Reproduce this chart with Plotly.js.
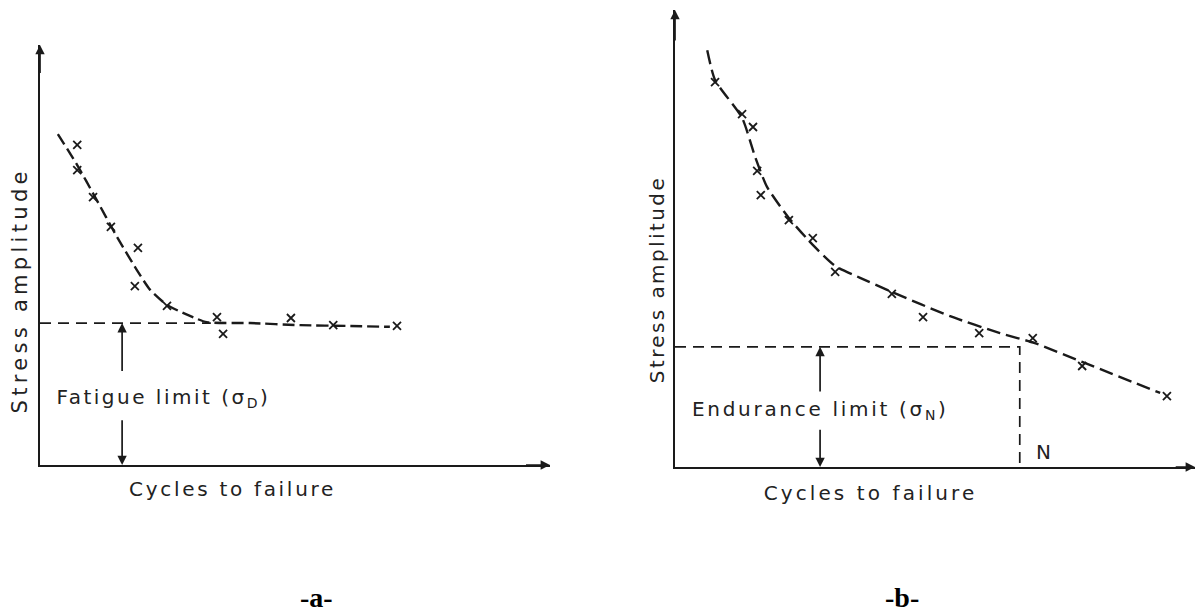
<!DOCTYPE html>
<html><head><meta charset="utf-8">
<script src="https://cdn.plot.ly/plotly-3.0.1.min.js"></script>
<style>
html,body{margin:0;padding:0;background:#fff}
.annotation[data-index="8"] text{letter-spacing:2.5px}
.annotation[data-index="9"] text{letter-spacing:2.7px}
.annotation[data-index="11"] text{letter-spacing:4.3px}
.annotation[data-index="12"] text{letter-spacing:2.4px}
.annotation[data-index="13"] text{letter-spacing:2.7px}
.annotation[data-index="14"] text{letter-spacing:3.1px}
</style>
</head><body>
<div id="chart" style="width:1199px;height:614px"></div>
<script>
// ---- Panel (a): fatigue limit ----
const aCurveX = [0.35,0.73,1.08,1.51,1.90,2.16,2.49,2.94,3.27,4.12,5.10,6.08,6.86];
const aCurveY = [7.88,7.14,6.38,5.43,4.64,4.17,3.81,3.55,3.40,3.38,3.33,3.31,3.29];
const aPointsX = [0.73,0.73,1.04,1.39,1.92,1.86,2.49,3.47,3.59,4.92,5.75,7.00];
const aPointsY = [7.62,7.02,6.38,5.67,5.17,4.26,3.79,3.52,3.12,3.50,3.33,3.31];
const fatigueLimit = 3.38;
const fatigueLimitEndX = 3.35;
const fatigueArrowX = 1.61;

// ---- Panel (b): endurance limit ----
const bCurveX = [0.62,0.77,1.29,1.54,1.77,2.19,2.65,3.08,3.56,4.17,5.29,6.25,6.92,7.83,9.33];
const bCurveY = [9.12,8.47,7.64,6.79,6.13,5.45,4.86,4.40,4.14,3.83,3.30,2.93,2.71,2.30,1.62];
const bPointsX = [0.77,1.29,1.50,1.58,1.65,2.19,2.65,3.08,4.17,4.77,5.85,6.88,7.83,9.46];
const bPointsY = [8.42,7.72,7.44,6.48,5.95,5.40,5.01,4.27,3.79,3.28,2.93,2.82,2.21,1.55];
const enduranceLimit = 2.63;
const cyclesN = 6.63;
const enduranceArrowX = 2.79;

// ---- Text ----
const yTitle = "Stress amplitude";
const xTitle = "Cycles to failure";
const aLimitLabel = "Fatigue limit (σ<sub>D</sub>)";
const bLimitLabel = "Endurance limit (σ<sub>N</sub>)";
const nLabel = "N";
const panelLabels = ["-a-", "-b-"];

const ink = '#1a1a1a';
const lblFont = {family: 'DejaVu Sans', size: 20, color: '#222'};

const traces = [
  {x: aCurveX, y: aCurveY, xaxis: 'x', yaxis: 'y', mode: 'lines', line: {color: ink, width: 2.4, dash: '12px,5px', shape: 'spline', smoothing: 0.6}, hoverinfo: 'skip'},
  {x: aPointsX, y: aPointsY, xaxis: 'x', yaxis: 'y', mode: 'markers', marker: {symbol: 'x-thin', size: 8, line: {width: 1.8, color: ink}, color: ink}},
  {x: [0, fatigueLimitEndX], y: [fatigueLimit, fatigueLimit], xaxis: 'x', yaxis: 'y', mode: 'lines', line: {color: ink, width: 1.7, dash: '11px,7px'}},
  {x: bCurveX, y: bCurveY, xaxis: 'x2', yaxis: 'y2', mode: 'lines', line: {color: ink, width: 2.4, dash: '14px,6px', shape: 'spline', smoothing: 0.6}, hoverinfo: 'skip'},
  {x: bPointsX, y: bPointsY, xaxis: 'x2', yaxis: 'y2', mode: 'markers', marker: {symbol: 'x-thin', size: 8, line: {width: 1.8, color: ink}, color: ink}},
  {x: [0, cyclesN, cyclesN], y: [enduranceLimit, enduranceLimit, 0], xaxis: 'x2', yaxis: 'y2', mode: 'lines', line: {color: ink, width: 1.7, dash: '11px,7px'}}
];

const axisBase = {range: [0, 10], showgrid: false, zeroline: false, showticklabels: false, ticks: '', showline: true, linewidth: 2, linecolor: ink, fixedrange: true};

function arrow(xr, yr, x, y, ax, ay) {
  return {xref: xr, yref: yr, axref: xr, ayref: yr, x: x, y: y, ax: ax, ay: ay, text: '', showarrow: true, arrowhead: 2, arrowsize: 1.1, arrowwidth: 1.7, arrowcolor: ink};
}
function txt(xr, yr, x, y, text, opts) {
  return Object.assign({xref: xr, yref: yr, x: x, y: y, text: text, showarrow: false, font: lblFont, xanchor: 'center', yanchor: 'middle'}, opts || {});
}

const annotations = [
  // axis arrowheads (0-3)
  arrow('x', 'y', 0, 10, 0, 9.3),
  arrow('x', 'y', 10, 0, 9.5, 0),
  arrow('x2', 'y2', 0, 10, 0, 9.3),
  arrow('x2', 'y2', 10, 0, 9.6, 0),
  // limit arrows, broken around the label (4-7)
  arrow('x', 'y', fatigueArrowX, fatigueLimit, fatigueArrowX, 2.2),
  arrow('x', 'y', fatigueArrowX, 0, fatigueArrowX, 1.1),
  arrow('x2', 'y2', enduranceArrowX, enduranceLimit, enduranceArrowX, 1.62),
  arrow('x2', 'y2', enduranceArrowX, 0, enduranceArrowX, 0.85),
  // labels (8-16)
  txt('x', 'y', 2.42, 1.6, aLimitLabel),
  txt('x2', 'y2', 2.79, 1.25, bLimitLabel),
  txt('x2', 'y2', 7.08, 0.33, nLabel),
  txt('paper', 'paper', 20/1199, 1 - 291/614, yTitle, {textangle: -90, font: Object.assign({}, lblFont, {size: 21})}),
  txt('paper', 'paper', 657/1199, 1 - 280/614, yTitle, {textangle: -90}),
  txt('paper', 'paper', 233/1199, 1 - 489/614, xTitle),
  txt('paper', 'paper', 870/1199, 1 - 493/614, xTitle),
  txt('paper', 'paper', 316/1199, 1 - 597/614, '<b>' + panelLabels[0] + '</b>', {font: {family: 'Liberation Serif', size: 28, color: '#000'}}),
  txt('paper', 'paper', 902/1199, 1 - 597/614, '<b>' + panelLabels[1] + '</b>', {font: {family: 'Liberation Serif', size: 28, color: '#000'}})
];

const layout = {
  width: 1199, height: 614,
  margin: {l: 0, r: 0, t: 0, b: 0},
  paper_bgcolor: '#fff', plot_bgcolor: '#fff',
  showlegend: false,
  xaxis: Object.assign({}, axisBase, {domain: [40/1199, 550/1199], anchor: 'y'}),
  yaxis: Object.assign({}, axisBase, {domain: [(614-465)/614, (614-45)/614], anchor: 'x'}),
  xaxis2: Object.assign({}, axisBase, {domain: [675/1199, 1195/1199], anchor: 'y2'}),
  yaxis2: Object.assign({}, axisBase, {domain: [(614-467)/614, (614-10)/614], anchor: 'x2'}),
  annotations: annotations
};

Plotly.newPlot('chart', traces, layout, {staticPlot: true, displayModeBar: false});
</script>
</body></html>
